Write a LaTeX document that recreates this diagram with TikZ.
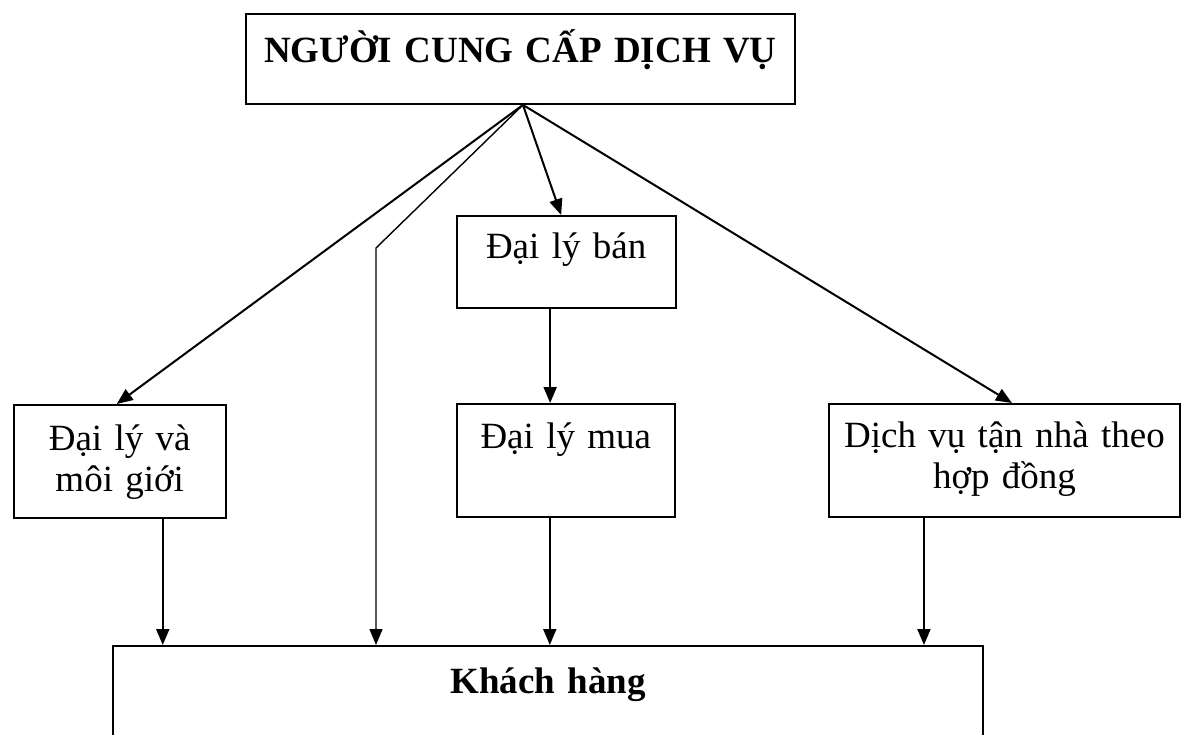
\documentclass[tikz,border=0pt]{standalone}
\usepackage{fontspec}
\setmainfont{Liberation Serif}
\usetikzlibrary{arrows.meta, positioning}
\tikzset{
  box/.style      = {rectangle, draw=black, line width=1.9pt,
                     inner xsep=0pt, inner ysep=0pt, align=center,
                     anchor=north west, font=\fontsize{37}{41}\selectfont},
  heading/.style  = {box, font=\fontsize{37}{41}\selectfont\bfseries},
  arrow/.style    = {-{Triangle[length=16pt, width=13pt]}, line width=2pt},
}

\begin{document}
\begin{tikzpicture}[x=1pt, y=-1pt]
    \useasboundingbox (0,0) rectangle (1181,735);
    \clip (0,0) rectangle (1181,735);

    % ── Top: provider ─────────────────────────────────────────────
    \node[heading, text width=549pt, text height=49pt, text depth=41pt]
      (provider) at (245,13) {NGƯỜI CUNG CẤP DỊCH VỤ};

    % ── Middle row: agents ────────────────────────────────────────
    \node[box, text width=219pt, text height=43pt, text depth=49pt]
      (seller) at (455.7,215) {Đại lý bán};

    \node[box, text width=212.4pt, text height=46pt, text depth=67pt]
      (broker) at (12.6,404) {Đại lý và\\ môi giới};

    \node[box, text width=218.3pt, text height=45pt, text depth=68pt]
      (buyer) at (455.7,403) {Đại lý mua};

    \node[box, text width=351pt, text height=44pt, text depth=69pt]
      (home) at (828,403) {Dịch vụ tận nhà theo\\ hợp đồng};

    % ── Bottom: customers ─────────────────────────────────────────
    \node[heading, text width=870pt, text height=48pt, text depth=100pt]
      (customer) at (112,645) {Khách hàng};

    % ── Arrows ────────────────────────────────────────────────────
    \coordinate (hub)        at ([xshift=2.5pt]provider.south);
    \coordinate (bend)       at (376,248);
    \coordinate (broker out) at ([xshift=43pt]broker.south);
    \coordinate (seller out) at ([xshift=-16pt]seller.south);
    \coordinate (buyer out)  at ([xshift=-16pt]buyer.south);
    \coordinate (home out)   at ([xshift=-80.5pt]home.south);

    \draw[arrow] (hub) -- ([xshift=-3pt]broker.north);
    \draw[arrow, line width=1.4pt] (hub) -- (bend) -- (bend |- customer.north);
    \draw[arrow] (hub) -- ([xshift=-5pt]seller.north);
    \draw[arrow] (hub) -- ([xshift=7.5pt]home.north);
    \draw[arrow] (seller out) -- (seller out |- buyer.north);
    \draw[arrow] (broker out) -- (broker out |- customer.north);
    \draw[arrow] (buyer out)  -- (buyer out |- customer.north);
    \draw[arrow] (home out)   -- (home out |- customer.north);

  \end{tikzpicture}
\end{document}
